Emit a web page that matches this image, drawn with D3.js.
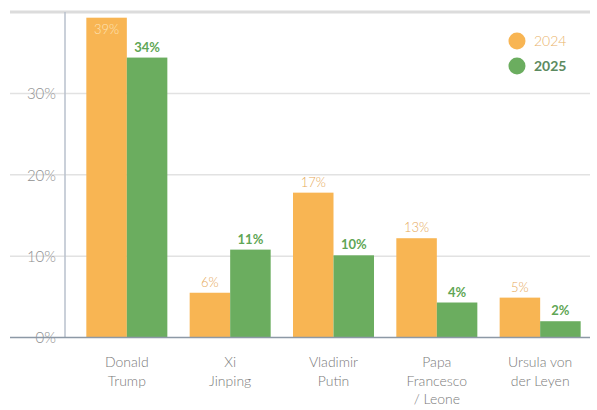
<!DOCTYPE html>
<html><head><meta charset="utf-8">
<script src="https://cdn.jsdelivr.net/npm/d3@7"></script>
<style>body{margin:0;background:#fff;} text{font-family:Lato,"Open Sans",sans-serif;}</style>
</head><body><svg id="c" width="597" height="410"></svg>
<script>
const categories = [["Donald","Trump"],["Xi","Jinping"],["Vladimir","Putin"],["Papa","Francesco","/ Leone"],["Ursula von","der Leyen"]];
const series = ["2024","2025"];
const values2024 = [39.3, 5.5, 17.8, 12.2, 4.9];
const values2025 = [34.4, 10.8, 10.1, 4.3, 2.0];
const labels2024 = ["39%","6%","17%","13%","5%"];
const labels2025 = ["34%","11%","10%","4%","2%"];
const yTicks = [0,10,20,30];

const colors = {"2024":"#F8B553","2025":"#6BAD5F"};
const svg = d3.select("#c");
const y = d3.scaleLinear().domain([0,40]).range([337.5,12]);
const x0 = d3.scaleBand().domain(d3.range(categories.length)).range([76,591]).paddingInner(0.216).paddingOuter(0.1);
const x1 = d3.scaleBand().domain(series).range([0,x0.bandwidth()]);

// gridlines
svg.append("g").selectAll("line").data([10,20,30]).join("line")
  .attr("x1",10).attr("x2",590).attr("y1",d=>y(d)).attr("y2",d=>y(d))
  .attr("stroke","#e2e2e2").attr("stroke-width",1.5);
svg.append("line").attr("x1",10).attr("x2",590).attr("y1",y(40)).attr("y2",y(40))
  .attr("stroke","#dcdcdc").attr("stroke-width",3);

// y axis
const yAxis = d3.axisLeft(y).tickValues(yTicks).tickFormat(d=>d+"%").tickSize(0).tickPadding(9);
const ga = svg.append("g").attr("transform","translate(65,0)").call(yAxis);
ga.select(".domain").remove();
ga.selectAll("text").attr("font-size",15).attr("font-weight",300).attr("fill","#909090").attr("dy","0.35em");
svg.append("line").attr("x1",65).attr("x2",65).attr("y1",y(40)).attr("y2",y(0)).attr("stroke","#b8c0cc").attr("stroke-width",1.5);

const data = categories.map((c,i)=>({i, vals:[{s:"2024",v:values2024[i],l:labels2024[i]},{s:"2025",v:values2025[i],l:labels2025[i]}]}));
const g = svg.append("g").selectAll("g").data(data).join("g").attr("transform",d=>`translate(${x0(d.i)},0)`);
g.selectAll("rect").data(d=>d.vals).join("rect")
  .attr("x",d=>x1(d.s)).attr("width",x1.bandwidth()).attr("y",d=>y(d.v)).attr("height",d=>y(0)-y(d.v))
  .attr("fill",d=>colors[d.s]);
g.selectAll("text.v").data(d=>d.vals).join("text").attr("class","v")
  .attr("x",d=>x1(d.s)+x1.bandwidth()/2)
  .attr("y",d=> d.v>38 ? y(d.v)+16 : y(d.v)-6)
  .attr("text-anchor","middle").attr("font-size",13)
  .attr("font-weight",d=>d.s==="2025"?700:300)
  .attr("fill",d=> d.v>38 ? "#fde3b8" : (d.s==="2025" ? "#5fa655" : "#e6a957"))
  .text(d=>d.l);

// baseline
svg.append("line").attr("x1",10).attr("x2",590).attr("y1",y(0)).attr("y2",y(0)).attr("stroke","#8d99a6").attr("stroke-width",1.5);

// x labels
const xl = svg.append("g").selectAll("text").data(data).join("text")
  .attr("x",d=>x0(d.i)+x0.bandwidth()/2).attr("y",367)
  .attr("text-anchor","middle").attr("font-size",14).attr("font-weight",300).attr("fill","#7a7a7a");
xl.selectAll("tspan").data(d=>categories[d.i]).join("tspan")
  .attr("x",function(){return d3.select(this.parentNode).attr("x");})
  .attr("dy",(d,k)=>k===0?0:18.5).text(d=>d);

// legend
const lg = svg.append("g").selectAll("g").data(series).join("g").attr("transform",(d,i)=>`translate(517,${41+i*25})`);
lg.append("circle").attr("r",8.5).attr("fill",d=>colors[d]);
lg.append("text").attr("x",17).attr("dy","0.35em").attr("font-size",14)
  .attr("font-weight",(d,i)=>i===1?700:300)
  .attr("fill",(d,i)=>i===1?"#5c8a60":"#e9b36a").text(d=>d);
</script></body></html>
